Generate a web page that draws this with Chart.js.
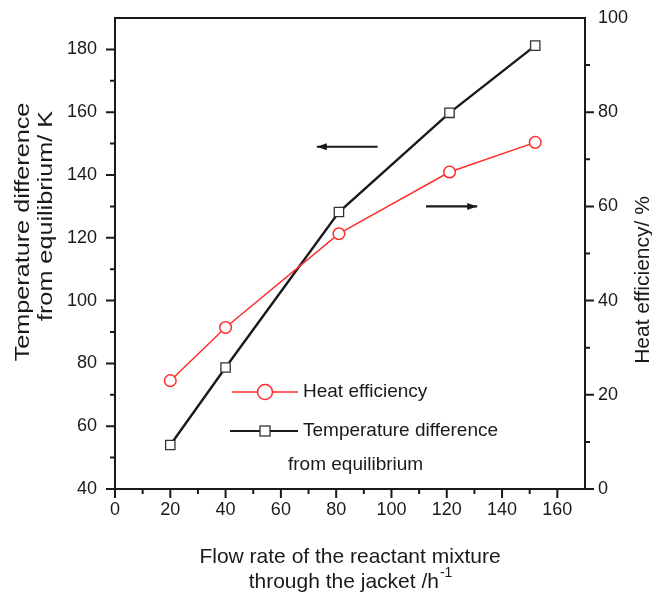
<!DOCTYPE html>
<html lang="en">
<head>
    <meta charset="UTF-8">
    <title>Flow rate vs temperature difference / heat efficiency</title>
    <script src="https://cdn.jsdelivr.net/npm/chart.js"></script>
    <style>
        html, body { margin: 0; padding: 0; background: #fff; }
        #chart { display: block; }
    </style>
</head>
<body>
    <canvas id="chart" width="652" height="592"></canvas>

    <script>
        // Data
        const flowRate = [20, 40, 81, 121, 152];
        const tempDiff = [54, 78.7, 128.2, 159.8, 181.2];      // K, left axis
        const heatEff = [23, 34.3, 54.2, 67.3, 73.6];          // %, right axis

        const xTitle = ['Flow rate of the reactant mixture', 'through the jacket /h'];
        const xTitleSup = '-1';
        const yTitle = ['Temperature difference', 'from equilibrium/ K'];
        const y1Title = 'Heat efficiency/ %';
        const legendLabels = ['Heat efficiency', 'Temperature difference', 'from equilibrium'];

        const RED = 'rgb(255, 45, 45)';
        const INK = '#1a1a1a';
        const FONT = '"Liberation Sans", Arial, sans-serif';

        // frame, minor/major ticks, arrows, legend and titles
        const decorations = {
            id: 'decorations',
            afterDraw(chart) {
                const ctx = chart.ctx;
                const a = chart.chartArea;
                const sx = chart.scales.x, sy = chart.scales.y, sy1 = chart.scales.y1;
                ctx.save();

                // frame
                ctx.strokeStyle = INK;
                ctx.lineWidth = 2;
                ctx.strokeRect(a.left, a.top, a.right - a.left, a.bottom - a.top);

                // ticks (outward, labelled ones longer)
                ctx.lineWidth = 2;
                ctx.beginPath();
                sx.ticks.forEach(t => {
                    if (t.value >= sx.max) return;
                    const px = sx.getPixelForValue(t.value);
                    const len = t.value % 20 === 0 ? 9 : 5;
                    ctx.moveTo(px, a.bottom);
                    ctx.lineTo(px, a.bottom + len);
                });
                sy.ticks.forEach(t => {
                    if (t.value >= sy.max) return;
                    const py = sy.getPixelForValue(t.value);
                    const len = t.value % 20 === 0 ? 9 : 5;
                    ctx.moveTo(a.left, py);
                    ctx.lineTo(a.left - len, py);
                });
                sy1.ticks.forEach(t => {
                    if (t.value >= sy1.max) return;
                    const py = sy1.getPixelForValue(t.value);
                    const len = t.value % 20 === 0 ? 9 : 5;
                    ctx.moveTo(a.right, py);
                    ctx.lineTo(a.right + len, py);
                });
                ctx.stroke();

                // arrows pointing to each series' axis
                const arrow = (x0, x1, y, dir) => {
                    const px0 = sx.getPixelForValue(x0), px1 = sx.getPixelForValue(x1);
                    const py = sy.getPixelForValue(y);
                    ctx.strokeStyle = INK;
                    ctx.fillStyle = INK;
                    ctx.lineWidth = 2.2;
                    ctx.beginPath();
                    ctx.moveTo(px0, py);
                    ctx.lineTo(px1, py);
                    ctx.stroke();
                    const tip = dir < 0 ? px0 : px1;
                    ctx.beginPath();
                    ctx.moveTo(tip, py);
                    ctx.lineTo(tip - dir * 10, py - 3.5);
                    ctx.lineTo(tip - dir * 10, py + 3.5);
                    ctx.closePath();
                    ctx.fill();
                };
                arrow(73, 95, 149, -1);
                arrow(112.5, 131, 130, 1);

                // legend
                ctx.font = '19px ' + FONT;
                ctx.textBaseline = 'middle';
                ctx.textAlign = 'left';
                ctx.fillStyle = INK;

                const lx0 = a.left + 117, lx1 = a.left + 183, lmid = a.left + 150;
                const ly1 = a.top + 374, ly2 = a.top + 413;

                ctx.strokeStyle = RED;
                ctx.lineWidth = 1.5;
                ctx.beginPath();
                ctx.moveTo(lx0, ly1); ctx.lineTo(lmid - 8, ly1);
                ctx.moveTo(lmid + 8, ly1); ctx.lineTo(lx1, ly1);
                ctx.stroke();
                ctx.beginPath();
                ctx.arc(lmid, ly1, 7.5, 0, Math.PI * 2);
                ctx.fillStyle = '#fff';
                ctx.fill();
                ctx.stroke();

                ctx.strokeStyle = INK;
                ctx.lineWidth = 2;
                ctx.beginPath();
                ctx.moveTo(lx0 - 2, ly2); ctx.lineTo(lx1, ly2);
                ctx.stroke();
                ctx.fillStyle = '#fff';
                ctx.fillRect(lmid - 5, ly2 - 5, 10, 10);
                ctx.lineWidth = 1.3;
                ctx.strokeStyle = '#333';
                ctx.strokeRect(lmid - 5, ly2 - 5, 10, 10);

                ctx.fillStyle = INK;
                ctx.fillText(legendLabels[0], a.left + 188, ly1);
                ctx.fillText(legendLabels[1], a.left + 188, ly2);
                ctx.fillText(legendLabels[2], a.left + 173, ly2 + 34);

                // x title with superscript
                ctx.font = '21px ' + FONT;
                ctx.textAlign = 'center';
                const cx = (a.left + a.right) / 2;
                ctx.fillText(xTitle[0], cx, 557);
                const w2 = ctx.measureText(xTitle[1]).width;
                ctx.font = '14px ' + FONT;
                const ws = ctx.measureText(xTitleSup).width;
                ctx.font = '21px ' + FONT;
                ctx.textAlign = 'left';
                const start = cx - (w2 + ws) / 2;
                ctx.fillText(xTitle[1], start, 582);
                ctx.font = '14px ' + FONT;
                ctx.fillText(xTitleSup, start + w2 + 1, 573);

                // left title (two lines, rotated)
                ctx.textAlign = 'center';
                ctx.font = '21px ' + FONT;
                [[23, 232], [46, 216]].forEach(([x, y], i) => {
                    ctx.save();
                    ctx.translate(x, y);
                    ctx.rotate(-Math.PI / 2);
                    ctx.scale(1.2, 1);
                    ctx.fillText(yTitle[i], 0, 0);
                    ctx.restore();
                });

                // right title
                ctx.save();
                ctx.translate(643, 280);
                ctx.rotate(-Math.PI / 2);
                ctx.fillText(y1Title, 0, 0);
                ctx.restore();

                ctx.restore();
            }
        };

        const tickFont = { family: FONT, size: 18 };
        const majorOnly = v => (v % 20 === 0 ? String(v) : '');

        // fixed axis sizes so the plot area sits where it does in the figure
        const fixSize = (w, h) => s => {
            if (w !== null) s.width = w;
            if (h !== null) s.height = h;
            s.paddingTop = 0;
            s.paddingBottom = 0;
        };

        new Chart(document.getElementById('chart'), {
            type: 'line',
            data: {
                datasets: [
                    {
                        label: 'Heat efficiency',
                        data: flowRate.map((x, i) => ({ x: x, y: heatEff[i] })),
                        yAxisID: 'y1',
                        borderColor: RED,
                        borderWidth: 1.5,
                        pointStyle: 'circle',
                        pointRadius: 5.8,
                        pointBorderWidth: 1.5,
                        pointBackgroundColor: '#fff',
                        pointBorderColor: RED,
                        tension: 0
                    },
                    {
                        label: 'Temperature difference from equilibrium',
                        data: flowRate.map((x, i) => ({ x: x, y: tempDiff[i] })),
                        yAxisID: 'y',
                        borderColor: INK,
                        borderWidth: 2.4,
                        pointStyle: 'rect',
                        pointRadius: 6.6,
                        pointBorderWidth: 1.3,
                        pointBackgroundColor: '#fff',
                        pointBorderColor: '#333',
                        tension: 0
                    }
                ]
            },
            options: {
                responsive: false,
                animation: false,
                layout: { padding: { top: 18 } },
                plugins: {
                    legend: { display: false },
                    tooltip: { enabled: false }
                },
                scales: {
                    x: {
                        type: 'linear',
                        min: 0,
                        max: 170,
                        grid: { display: false, drawTicks: false },
                        border: { display: false },
                        ticks: {
                            stepSize: 10,
                            autoSkip: false,
                            maxRotation: 0,
                            padding: 10,
                            color: INK,
                            font: tickFont,
                            callback: majorOnly
                        },
                        afterFit: fixSize(null, 103)
                    },
                    y: {
                        position: 'left',
                        min: 40,
                        max: 190,
                        grid: { display: false, drawTicks: false },
                        border: { display: false },
                        ticks: {
                            stepSize: 10,
                            autoSkip: false,
                            padding: 18,
                            color: INK,
                            font: tickFont,
                            callback: majorOnly
                        },
                        afterFit: fixSize(115, null)
                    },
                    y1: {
                        position: 'right',
                        min: 0,
                        max: 100,
                        grid: { display: false, drawTicks: false },
                        border: { display: false },
                        ticks: {
                            stepSize: 10,
                            autoSkip: false,
                            padding: 13,
                            color: INK,
                            font: tickFont,
                            callback: majorOnly
                        },
                        afterFit: fixSize(67, null)
                    }
                }
            },
            plugins: [decorations]
        });
    </script>
</body>
</html>
